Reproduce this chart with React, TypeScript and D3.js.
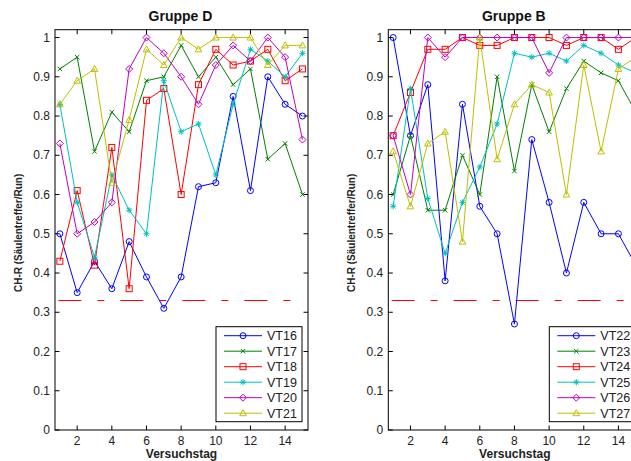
import React from 'react';
import * as d3 from 'd3';

const days = [1, 2, 3, 4, 5, 6, 7, 8, 9, 10, 11, 12, 13, 14, 15];
const yTicks = [0, 0.1, 0.2, 0.3, 0.4, 0.5, 0.6, 0.7, 0.8, 0.9, 1];
const yTickLabels = ['0', '0.1', '0.2', '0.3', '0.4', '0.5', '0.6', '0.7', '0.8', '0.9', '1'];
const xTicks = [2, 4, 6, 8, 10, 12, 14];
const threshold = 0.33;

const namesD = ['VT16', 'VT17', 'VT18', 'VT19', 'VT20', 'VT21'];
const vt16 = [0.50, 0.35, 0.43, 0.36, 0.48, 0.39, 0.31, 0.39, 0.62, 0.63, 0.85, 0.61, 0.90, 0.83, 0.80];
const vt17 = [0.92, 0.95, 0.71, 0.81, 0.76, 0.89, 0.90, 0.98, 0.90, 0.95, 0.88, 0.92, 0.69, 0.73, 0.60];
const vt18 = [0.43, 0.61, 0.42, 0.72, 0.36, 0.84, 0.87, 0.60, 0.88, 0.97, 0.93, 0.94, 0.97, 0.89, 0.92];
const vt19 = [0.83, 0.58, 0.44, 0.65, 0.56, 0.50, 0.89, 0.76, 0.78, 0.65, 0.83, 0.97, 0.94, 0.90, 0.96];
const vt20 = [0.73, 0.50, 0.53, 0.58, 0.92, 1.00, 0.96, 0.90, 0.83, 0.93, 0.98, 0.94, 1.00, 0.95, 0.74];
const vt21 = [0.83, 0.89, 0.92, 0.63, 0.79, 0.97, 0.93, 1.00, 0.97, 1.00, 1.00, 1.00, 0.93, 0.98, 0.98];

const namesB = ['VT22', 'VT23', 'VT24', 'VT25', 'VT26', 'VT27'];
const vt22 = [1.00, 0.75, 0.88, 0.38, 0.83, 0.57, 0.50, 0.27, 0.74, 0.58, 0.40, 0.58, 0.50, 0.50, 0.42];
const vt23 = [0.60, 0.75, 0.56, 0.56, 0.70, 0.60, 0.90, 0.66, 0.88, 0.76, 0.87, 0.94, 0.91, 0.89, 0.81];
const vt24 = [0.75, 0.86, 0.97, 0.97, 1.00, 0.98, 0.98, 1.00, 1.00, 1.00, 0.98, 1.00, 1.00, 0.97, 1.00];
const vt25 = [0.57, 0.87, 0.59, 0.45, 0.58, 0.67, 0.78, 0.96, 0.95, 0.96, 0.94, 0.98, 0.96, 0.93, 0.91];
const vt26 = [0.75, 0.60, 1.00, 0.95, 1.00, 1.00, 1.00, 1.00, 1.00, 0.91, 1.00, 1.00, 1.00, 1.00, 1.00];
const vt27 = [0.71, 0.57, 0.73, 0.76, 0.48, 1.00, 0.69, 0.83, 0.88, 0.86, 0.60, 0.93, 0.71, 0.92, 0.95];

const colors = ['#0000ff', '#008000', '#ff0000', '#00bfbf', '#bf00bf', '#bfbf00'];
const markers = ['circle', 'x', 'square', 'star', 'diamond', 'triangle'];

const FONT = 'Arial, "Liberation Sans", Helvetica, sans-serif';

function Marker({ type, x, y, color }: { type: string; x: number; y: number; color: string }) {
  const p = { fill: 'none', stroke: color, strokeWidth: 1 };
  switch (type) {
    case 'circle':
      return <circle cx={x} cy={y} r={3} {...p} />;
    case 'x':
      return <path d={`M${x - 2.2},${y - 2.2}L${x + 2.2},${y + 2.2}M${x - 2.2},${y + 2.2}L${x + 2.2},${y - 2.2}`} {...p} />;
    case 'square':
      return <rect x={x - 3} y={y - 3} width={6} height={6} {...p} />;
    case 'star':
      return <path d={`M${x - 3},${y}L${x + 3},${y}M${x},${y - 3}L${x},${y + 3}M${x - 2.2},${y - 2.2}L${x + 2.2},${y + 2.2}M${x - 2.2},${y + 2.2}L${x + 2.2},${y - 2.2}`} {...p} />;
    case 'diamond':
      return <path d={`M${x},${y - 3.5}L${x + 3.5},${y}L${x},${y + 3.5}L${x - 3.5},${y}Z`} {...p} />;
    case 'triangle':
      return <path d={`M${x},${y - 3.5}L${x + 3.3},${y + 2.5}L${x - 3.3},${y + 2.5}Z`} {...p} />;
  }
  return null;
}

function Panel({ left, title, names, series }: { left: number; title: string; names: string[]; series: number[][] }) {
  const width = 253;
  const top = 29.7;
  const bottom = 430;
  const x = d3.scaleLinear().domain([0.72, 15.32]).range([left, left + width]);
  const y = d3.scaleLinear().domain([0, 1.02]).range([bottom, top]);
  const line = d3.line<number>().x((_, i) => x(days[i])).y((v) => y(v));
  const tl = 4.5;
  const legX = left + 161;
  const legY = 326.7;
  const rowH = 15.5;
  return (
    <g>
      <rect x={left} y={top} width={width} height={bottom - top} fill="#fff" stroke="none" />
      <line x1={x(1) - 1.5} x2={x(15)} y1={y(threshold)} y2={y(threshold)} stroke="#ff0000" strokeWidth={1.2} strokeDasharray="23,16,7,16" />
      {series.map((s, k) => (
        <g key={k}>
          <path d={line(s) || ''} fill="none" stroke={colors[k]} strokeWidth={1} />
          {s.map((v, i) => (
            <Marker key={i} type={markers[k]} x={x(days[i])} y={y(v)} color={colors[k]} />
          ))}
        </g>
      ))}
      <rect x={left} y={top} width={width} height={bottom - top} fill="none" stroke="#000" strokeWidth={1} />
      {yTicks.map((t, i) => (
        <g key={i}>
          <line x1={left} x2={left + tl} y1={y(t)} y2={y(t)} stroke="#000" />
          <line x1={left + width - tl} x2={left + width} y1={y(t)} y2={y(t)} stroke="#000" />
          <text x={left - 5} y={y(t) + 4.2} textAnchor="end" fontSize={12} fontFamily={FONT} fill="#222">{yTickLabels[i]}</text>
        </g>
      ))}
      {xTicks.map((t) => (
        <g key={t}>
          <line x1={x(t)} x2={x(t)} y1={bottom} y2={bottom - tl} stroke="#000" />
          <line x1={x(t)} x2={x(t)} y1={top} y2={top + tl} stroke="#000" />
          <text x={x(t)} y={bottom + 14.5} textAnchor="middle" fontSize={12} fontFamily={FONT} fill="#222">{t}</text>
        </g>
      ))}
      <text x={left + width / 2} y={458} textAnchor="middle" fontSize={12} fontWeight="bold" fontFamily={FONT} fill="#222">Versuchstag</text>
      <text x={left + width / 2 - 1} y={21} textAnchor="middle" fontSize={14} fontWeight="bold" fontFamily={FONT} fill="#111">{title}</text>
      <text transform={`translate(${left - 33},${(top + bottom) / 2 + 3}) rotate(-90)`} textAnchor="middle" fontSize={10} fontWeight="bold" fontFamily={FONT} fill="#222">CH-R (Säulentreffer/Run)</text>
      <rect x={legX} y={legY} width={86} height={95} fill="#fff" stroke="#000" strokeWidth={1} />
      {names.map((n, k) => {
        const ry = legY + 9 + k * rowH;
        return (
          <g key={n}>
            <line x1={legX + 8} x2={legX + 46} y1={ry} y2={ry} stroke={colors[k]} strokeWidth={1} />
            <Marker type={markers[k]} x={legX + 27} y={ry} color={colors[k]} />
            <text x={legX + 51} y={ry + 4.5} fontSize={12.5} fontFamily={FONT} fill="#222">{n}</text>
          </g>
        );
      })}
    </g>
  );
}

export default function App() {
  return (
    <svg width={631} height={461} style={{ position: 'absolute', left: 0, top: 0, background: '#fff' }}>
      <rect x={0} y={0} width={631} height={461} fill="#fff" />
      <Panel left={55} title="Gruppe D" names={namesD} series={[vt16, vt17, vt18, vt19, vt20, vt21]} />
      <Panel left={388.3} title="Gruppe B" names={namesB} series={[vt22, vt23, vt24, vt25, vt26, vt27]} />
    </svg>
  );
}
